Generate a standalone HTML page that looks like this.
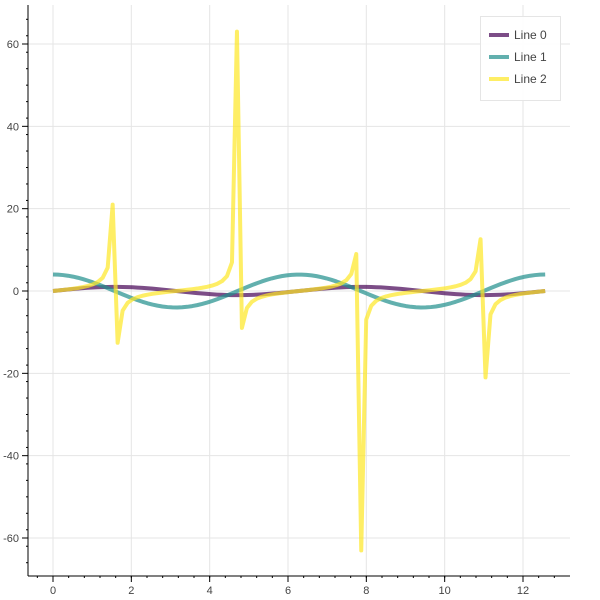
<!DOCTYPE html>
<html><head><meta charset="utf-8"><style>
html,body{margin:0;padding:0;background:#fff;}
svg{display:block;font-family:"Liberation Sans",sans-serif;}
</style></head><body>
<svg id="s" width="600" height="600" xmlns="http://www.w3.org/2000/svg"></svg>
<script>
const s=document.getElementById('s');
const X0=53,XS=(523-53)/12,Y0=291,YS=(538-44)/120;
const L=28,R=570,T=5,B=576;
const px=x=>X0+x*XS, py=y=>Y0-y*YS;
let h='';
// grid
for(let v=0;v<=12;v+=2){h+=`<line x1="${px(v)}" x2="${px(v)}" y1="${T}" y2="${B}" stroke="#e5e5e5"/>`;}
for(let v=-60;v<=60;v+=20){h+=`<line x1="${L}" x2="${R}" y1="${py(v)}" y2="${py(v)}" stroke="#e5e5e5"/>`;}
// series
const N=100,xs=[];for(let i=0;i<N;i++)xs.push(4*Math.PI*i/(N-1));
const fs=[Math.sin,x=>4*Math.cos(x),Math.tan];
const cols=['#440154','#208F8C','#FDE724'];
fs.forEach((f,k)=>{h+=`<polyline fill="none" stroke="${cols[k]}" stroke-opacity="0.7" stroke-width="4" stroke-linejoin="round" points="${xs.map(x=>px(x).toFixed(2)+','+py(f(x)).toFixed(2)).join(' ')}"/>`;});
// axes
h+=`<line x1="${L}" x2="${L}" y1="${T}" y2="${B}" stroke="#000"/>`;
h+=`<line x1="${L}" x2="${R}" y1="${B}" y2="${B}" stroke="#000"/>`;
for(let v=-70;v<=70;v+=4){if(py(v)<T||py(v)>B)continue;h+=`<line x1="${L-2}" x2="${L}" y1="${py(v)}" y2="${py(v)}" stroke="#000"/>`;}
for(let v=-60;v<=60;v+=20){h+=`<line x1="${L-6}" x2="${L}" y1="${py(v)}" y2="${py(v)}" stroke="#000"/><text x="${L-9}" y="${py(v)+4}" font-size="11" text-anchor="end" fill="#444">${v}</text>`;}
for(let v=-0.4;v<=13;v+=0.4){if(px(v)<L||px(v)>R)continue;h+=`<line x1="${px(v)}" x2="${px(v)}" y1="${B}" y2="${B+2}" stroke="#000"/>`;}
for(let v=0;v<=12;v+=2){h+=`<line x1="${px(v)}" x2="${px(v)}" y1="${B}" y2="${B+6}" stroke="#000"/><text x="${px(v)}" y="${B+18}" font-size="11" text-anchor="middle" fill="#444">${v}</text>`;}
// legend
h+=`<rect x="480.5" y="16.5" width="80" height="84" fill="#fff" fill-opacity="0.95" stroke="#e5e5e5"/>`;
['Line 0','Line 1','Line 2'].forEach((t,i)=>{const y=35+i*22;h+=`<line x1="489" x2="509" y1="${y}" y2="${y}" stroke="${cols[i]}" stroke-opacity="0.7" stroke-width="4"/><text x="514" y="${y+4}" font-size="12" fill="#444">${t}</text>`;});
s.innerHTML=h;
</script>
</body></html>
